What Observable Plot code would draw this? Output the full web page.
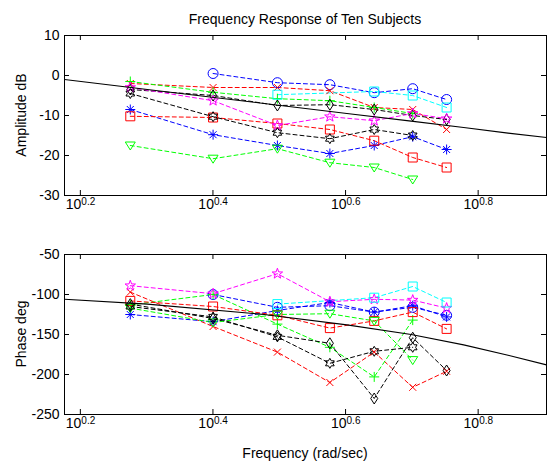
<!DOCTYPE html>
<html><head><meta charset="utf-8">
<script src="https://cdn.jsdelivr.net/npm/d3@7"></script>
<script src="https://cdn.jsdelivr.net/npm/@observablehq/plot@0.6"></script>
<style>
body{margin:0;background:#fff;}
#wrap{position:relative;width:547px;height:461px;font-family:Arial,"Liberation Sans",sans-serif;overflow:hidden;background:#fff;}
#title{position:absolute;top:11px;left:64px;width:482px;text-align:center;font-size:14px;line-height:16px;}
#top,#bot{position:absolute;left:0;}
#top{top:0px} #bot{top:230px}
#xlabel{position:absolute;top:445px;left:64px;width:482px;text-align:center;font-size:14px;line-height:16px;}
.ylab{position:absolute;width:200px;left:-79px;text-align:center;font-size:14px;line-height:16px;transform:rotate(-90deg);}
</style></head>
<body><div id="wrap"><div id="top"></div><div id="bot"></div>
<div id="title">Frequency Response of Ten Subjects</div>
<div class="ylab" style="top:107px">Amplitude dB</div>
<div class="ylab" style="top:326px">Phase deg</div>
<div id="xlabel">Frequency (rad/sec)</div></div>
<script>
// ---- data ----
const freqs = [1.885, 2.513, 3.142, 3.770, 4.398, 5.027, 5.655];
const xTickExponents = ["0.2", "0.4", "0.6", "0.8"];
const ampTicks = [10, 0, -10, -20, -30];
const phaseTicks = [-50, -100, -150, -200, -250];

// amplitude (dB) per subject
const ampS1  = [null, 0.5, -1.8, -2.3, -4.3, -3.3, -6.0];
const ampS2  = [-2.0, -3.0, -3.0, -3.8, -8.0, -8.5, -13.5];
const ampS3  = [-1.5, -4.2, -5.8, -6.3, -8.0, -9.5, null];
const ampS4  = [-8.5, -14.8, -17.5, -19.5, -17.5, -15.3, -18.5];
const ampS5  = [-10.2, -10.5, -12.0, -13.5, -16.3, -20.5, -23.0];
const ampS6  = [-3.5, -5.0, -7.5, -7.3, -8.5, -10.0, -11.0];
const ampS7  = [-17.5, -20.8, -18.3, -21.8, -23.0, -26.0, null];
const ampS8  = [-3.0, -6.3, -12.5, -10.3, -11.3, -9.5, -10.8];
const ampS9  = [-4.5, -10.3, -14.3, -15.8, -13.5, -15.0, null];
const ampS10 = [null, null, -4.8, null, -4.0, -5.0, -8.0];

// phase (deg) per subject
const phS1  = [null, -100, -116, -114, -122, -116, -126];
const phS2  = [-97, -140, -172, -210, -172, -216, -196];
const phS3  = [-113, -100, -137, -166, -203, -132, null];
const phS4  = [-125, -134, -120, -110, -122, -114, -128];
const phS5  = [-108, -115, -126, -142, -133, -122, -143];
const phS6  = [-112, -130, -151, -161, -230, -154, -195];
const phS7  = [-117, -135, -125, -124, -133, -182, null];
const phS8  = [-89, -99, -74, -109, -106, -107, -117];
const phS9  = [-115, -128, -153, -186, -171, -166, null];
const phS10 = [null, null, -112, null, -104, -90, -110];

// model curve
const modelFreq  = [1.5, 2, 3, 4, 5, 6, 7, 8];
const modelAmp   = [-1.0, -3.5, -7.0, -9.5, -11.4, -13.0, -14.4, -15.5];
const modelPhase = [-106, -112, -125, -138, -150, -163, -176, -188];

// ---- styles ----
function sym(fn){return {draw(c,size){const R=Math.sqrt(size/Math.PI); fn(c,R);}};}
function star(c,R,n,ratio){for(let k=0;k<2*n;k++){const a=-Math.PI/2+k*Math.PI/n;const rr=k%2?R*ratio:R;const px=rr*Math.cos(a),py=rr*Math.sin(a);if(k===0)c.moveTo(px,py);else c.lineTo(px,py);}c.closePath();}
const symCircle = sym((c,R)=>{c.moveTo(R,0);c.arc(0,0,R,0,2*Math.PI);});
const symX = sym((c,R)=>{const a=R*0.7;c.moveTo(-a,-a);c.lineTo(a,a);c.moveTo(-a,a);c.lineTo(a,-a);});
const symPlus = sym((c,R)=>{c.moveTo(-R,0);c.lineTo(R,0);c.moveTo(0,-R);c.lineTo(0,R);});
const symAst = sym((c,R)=>{c.moveTo(-R,0);c.lineTo(R,0);c.moveTo(0,-R);c.lineTo(0,R);const a=R*0.7;c.moveTo(-a,-a);c.lineTo(a,a);c.moveTo(-a,a);c.lineTo(a,-a);});
const symSquare = sym((c,R)=>{const a=R*0.9;c.rect(-a,-a,2*a,2*a);});
const symDiamond = sym((c,R)=>{c.moveTo(0,-R*1.1);c.lineTo(R*0.7,0);c.lineTo(0,R*1.1);c.lineTo(-R*0.7,0);c.closePath();});
const symTriDown = sym((c,R)=>{c.moveTo(-R,-R*0.7);c.lineTo(R,-R*0.7);c.lineTo(0,R*0.9);c.closePath();});
const symPenta = sym((c,R)=>star(c,R*1.1,5,0.4));
const symHexa = sym((c,R)=>star(c,R,6,0.58));

const colors  = ["#0000ff","#ff0000","#00ff00","#0000ff","#ff0000","#000000","#00ff00","#ff00ff","#000000","#00ffff"];
const symbols = [symCircle, symX, symPlus, symAst, symSquare, symDiamond, symTriDown, symPenta, symHexa, symSquare];

const ampSeries = [ampS1, ampS2, ampS3, ampS4, ampS5, ampS6, ampS7, ampS8, ampS9, ampS10];
const phaseSeries = [phS1, phS2, phS3, phS4, phS5, phS6, phS7, phS8, phS9, phS10];

const W = 547, ML = 64, MR = 1;
const FW = W - ML - MR;

function panel(series, yDomain, yTicks, height, mt, mb, modelY) {
  const FH = height - mt - mb;
  const rows = [];
  series.forEach((vals, i) => vals.forEach((v, j) => { if (v != null) rows.push({s: i, x: freqs[j], y: v}); }));
  const model = modelFreq.map((f, k) => ({x: f, y: modelY[k]}));
  const xt = xTickExponents.map(e => ({e, v: Math.pow(10, +e)}));
  const marks = [
    Plot.line(rows, {x: "x", y: "y", z: "s", stroke: d => colors[d.s], strokeDasharray: "4,3", strokeWidth: 1}),
    ...series.map((_, i) => Plot.dot(rows.filter(d => d.s === i), {x: "x", y: "y", symbol: symbols[i], stroke: colors[i], fill: "none", r: 5, strokeWidth: 1})),
    Plot.line(model, {x: "x", y: "y", stroke: "black", strokeWidth: 1.1}),
    Plot.tickX(xt, {x: "v", insetTop: FH - 5, stroke: "black"}),
    Plot.tickX(xt, {x: "v", insetBottom: FH - 5, stroke: "black"}),
    Plot.tickY(yTicks, {y: d => d, insetRight: FW - 5, stroke: "black"}),
    Plot.tickY(yTicks, {y: d => d, insetLeft: FW - 5, stroke: "black"}),
    Plot.frame({stroke: "black"}),
    Plot.text(xt, {x: "v", text: () => "10", frameAnchor: "bottom", textAnchor: "end", dx: 1, dy: 13, fontSize: 14}),
    Plot.text(xt, {x: "v", text: "e", frameAnchor: "bottom", textAnchor: "start", dx: 1, dy: 9, fontSize: 10})
  ];
  return Plot.plot({
    width: W, height, marginLeft: ML, marginRight: MR, marginTop: mt, marginBottom: mb,
    x: {type: "log", domain: [1.5, 8], axis: null},
    y: {domain: yDomain, ticks: yTicks, tickSize: 0, tickPadding: 5, tickFormat: d => String(d), label: null},
    color: {type: "identity"},
    style: {fontFamily: "Arial, 'Liberation Sans', sans-serif", fontSize: "14px", background: "white", overflow: "visible", color: "black"},
    marks
  });
}

document.getElementById("top").appendChild(panel(ampSeries, [-30, 10], ampTicks, 230, 35, 35, modelAmp));
document.getElementById("bot").appendChild(panel(phaseSeries, [-250, -50], phaseTicks, 231, 24, 47, modelPhase));
</script>
</body></html>
